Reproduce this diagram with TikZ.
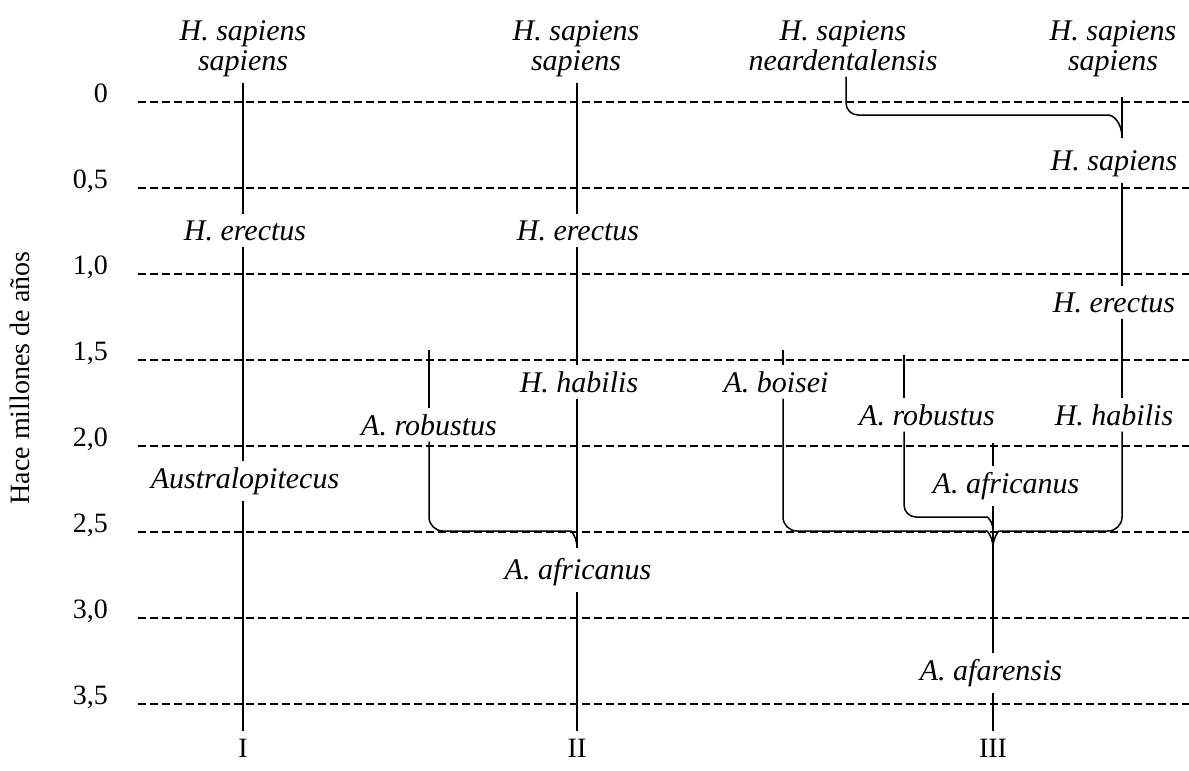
\documentclass[tikz,border=0pt]{standalone}
\usepackage{fontspec}
\setmainfont{Liberation Serif}
\tikzset{
  lbl/.style={font=\fontsize{30}{30}\selectfont\itshape, inner xsep=2pt, inner ysep=6pt},
  tck/.style={font=\fontsize{28}{30}\selectfont, inner sep=0pt},
  guide/.style={dash pattern=on 8pt off 4pt, line width=1.2pt},
  branch/.style={line width=1.5pt},
}
\begin{document}
\begin{tikzpicture}[x=1pt,y=-1pt]
      \useasboundingbox (0,0) rectangle (1189,771);
      % time lines
      \foreach \i/\t in {0/0,1/{0,5},2/{1,0},3/{1,5},4/{2,0},5/{2,5},6/{3,0},7/{3,5}}{
        \draw[guide] (138,102+86*\i) -- (1189,102+86*\i);
        \node[tck, anchor=base east] (t\i) at (108,102+86*\i) {\t};
      }
      \node[tck, rotate=90] (axis) at (20,378) {Hace millones de años};

      \coordinate (xI) at (243,0);
      \coordinate (xII) at (577,0);
      \coordinate (xRII) at (429,0);
      \coordinate (xB) at (783,0);
      \coordinate (xR) at (904,0);
      \coordinate (xIII) at (993,0);
      \coordinate (xH) at (1122,0);
      \coordinate (xN) at (846,0);

      % I
      \node[lbl, align=center, anchor=north] (ssI) at (243,14) {H. sapiens\\sapiens};
      \node[lbl, anchor=base] (erI) at (245,240) {H. erectus};
      \node[lbl, anchor=base] (ausI) at (245,488) {Australopitecus};
      \coordinate (botI) at (243,731);
      \draw[branch] (ssI.south -| xI) -- (erI.north -| xI);
      \draw[branch] (erI.south -| xI) -- (ausI.north -| xI);
      \draw[branch] (ausI.south -| xI) -- (botI);

      % II
      \node[lbl, align=center, anchor=north] (ssII) at (576,14) {H. sapiens\\sapiens};
      \node[lbl, anchor=base] (erII) at (578,240) {H. erectus};
      \node[lbl, anchor=base] (haII) at (579,392) {H. habilis};
      \node[lbl, anchor=base] (roII) at (429,435) {A. robustus};
      \node[lbl, anchor=base] (afII) at (578,579) {A. africanus};
      \coordinate (topRII) at (429,350);
      \coordinate (tipII) at (577,548);
      \coordinate (botII) at (577,731);
      \draw[branch] (ssII.south -| xII) -- (erII.north -| xII);
      \draw[branch] (erII.south -| xII) -- (haII.north -| xII);
      \draw[branch] (haII.south -| xII) -- (tipII);
      \draw[branch] (topRII) -- (roII.north -| xRII);
      \draw[branch, rounded corners=14pt] (roII.south -| xRII) -- (429,531) -- (557,531)
        .. controls (571,531) and (577,537) .. (tipII);
      \draw[branch] (afII.south -| xII) -- (botII);

      % III
      \node[lbl, align=center, anchor=north] (ndIII) at (843,14) {H. sapiens\\neardentalensis};
      \node[lbl, align=center, anchor=north] (ssIII) at (1113,14) {H. sapiens\\sapiens};
      \node[lbl, anchor=base] (hsIII) at (1114,170) {H. sapiens};
      \node[lbl, anchor=base] (heIII) at (1114,312) {H. erectus};
      \node[lbl, anchor=base] (boIII) at (776,392) {A. boisei};
      \node[lbl, anchor=base] (roIII) at (927,425) {A. robustus};
      \node[lbl, anchor=base] (haIII) at (1114,425) {H. habilis};
      \node[lbl, anchor=base] (afIII) at (1006,493) {A. africanus};
      \node[lbl, anchor=base] (afaIII) at (991,680) {A. afarensis};
      \coordinate (topS) at (1122,97);
      \coordinate (tipS) at (1122,138);
      \coordinate (topB) at (783,350);
      \coordinate (topR) at (904,355);
      \coordinate (topA) at (993,443);
      \coordinate (tipIII) at (993,548);
      \coordinate (botIII) at (993,731);
      \draw[branch] (topS) -- (tipS);
      \draw[branch, rounded corners=12pt] (ndIII.south -| xN) -- (846,115) -- (1096,115)
        .. controls (1113,115) and (1122,122) .. (tipS);
      \draw[branch] (hsIII.south -| xH) -- (heIII.north -| xH);
      \draw[branch] (heIII.south -| xH) -- (haIII.north -| xH);
      \draw[branch] (topB) -- (boIII.north -| xB);
      \draw[branch] (topR) -- (roIII.north -| xR);
      \draw[branch] (topA) -- (afIII.north -| xIII);
      \draw[branch, rounded corners=14pt] (boIII.south -| xB) -- (783,531) -- (973,531)
        .. controls (987,531) and (993,537) .. (tipIII);
      \draw[branch, rounded corners=14pt] (haIII.south -| xH) -- (1122,531) -- (1013,531)
        .. controls (999,531) and (993,537) .. (tipIII);
      \draw[branch, rounded corners=12pt] (roIII.south -| xR) -- (904,517) -- (975,517)
        .. controls (988,517) and (993,522) .. (993,531);
      \draw[branch] (afIII.south -| xIII) -- (afaIII.north -| xIII);
      \draw[branch] (afaIII.south -| xIII) -- (botIII);

      % columns
      \node[tck, anchor=base] (nI) at (243,757) {I};
      \node[tck, anchor=base] (nII) at (577,757) {II};
      \node[tck, anchor=base] (nIII) at (993,757) {III};
\end{tikzpicture}
\end{document}
